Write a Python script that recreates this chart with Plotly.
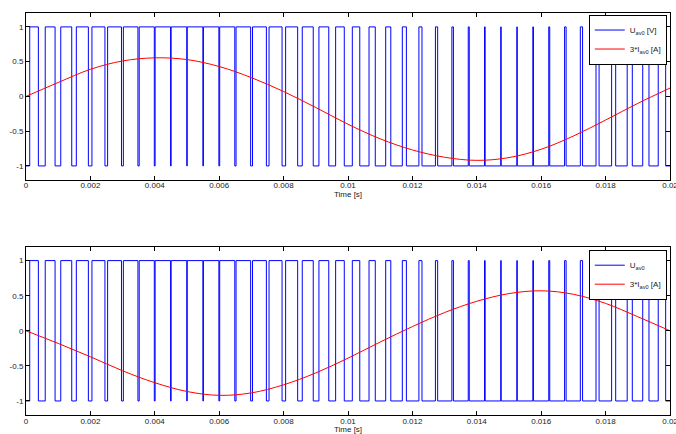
import plotly.graph_objects as go

# ---- data ----
T_SW = 0.0005  # switching period [s]
# fraction of each switching period spent at +1 (40 periods over 0.02 s)
duty_high = [0.537, 0.611, 0.682, 0.748, 0.808, 0.861, 0.905, 0.939, 0.962, 0.974,
             0.974, 0.962, 0.939, 0.905, 0.861, 0.808, 0.748, 0.682, 0.611, 0.537,
             0.463, 0.389, 0.318, 0.252, 0.192, 0.139, 0.095, 0.061, 0.038, 0.026,
             0.026, 0.038, 0.061, 0.095, 0.139, 0.192, 0.252, 0.318, 0.389, 0.463]

t_curr = [0.000, 0.001, 0.002, 0.003, 0.004, 0.005, 0.006, 0.007, 0.008, 0.009, 0.010,
          0.011, 0.012, 0.013, 0.014, 0.015, 0.016, 0.017, 0.018, 0.019, 0.020]
i_top = [0.0, 0.20, 0.39, 0.51, 0.555, 0.53, 0.43, 0.27, 0.07, -0.16, -0.40,
         -0.61, -0.77, -0.875, -0.92, -0.88, -0.76, -0.57, -0.34, -0.10, 0.12]
i_bot = [0.0, -0.18, -0.37, -0.57, -0.74, -0.865, -0.92, -0.885, -0.77, -0.60, -0.39,
         -0.16, 0.06, 0.26, 0.42, 0.53, 0.57, 0.52, 0.39, 0.20, 0.0]

x_ticks = [0, 0.002, 0.004, 0.006, 0.008, 0.01, 0.012, 0.014, 0.016, 0.018, 0.02]
x_tick_text = ["0", "0.002", "0.004", "0.006", "0.008", "0.01", "0.012", "0.014", "0.016", "0.018", "0.02"]
y_ticks = [-1, -0.5, 0, 0.5, 1]
y_tick_text = ["-1", "-0.5", "0", "0.5", "1"]

# build PWM step coordinates from the duty list
pwm_t = [0.0]
pwm_u = [-1]
for k, d in enumerate(duty_high):
    lo = (1 - d) * T_SW / 2
    pwm_t += [k * T_SW + lo, (k + 1) * T_SW - lo]
    pwm_u += [1, -1]
pwm_t.append(len(duty_high) * T_SW)
pwm_u.append(-1)

FONT = "Liberation Sans, Arial, Helvetica, sans-serif"
BLUE = "#0000ff"
RED = "#ff0000"

fig = go.Figure()
fig.add_trace(go.Scatter(x=pwm_t, y=pwm_u, mode="lines", line=dict(color=BLUE, width=1, shape="hv"),
                         name="U<sub>av0</sub> [V]", xaxis="x", yaxis="y", legend="legend"))
fig.add_trace(go.Scatter(x=t_curr, y=i_top, mode="lines", line=dict(color=RED, width=1, shape="spline", smoothing=1),
                         name="3*I<sub>av0</sub> [A]", xaxis="x", yaxis="y", legend="legend"))
fig.add_trace(go.Scatter(x=pwm_t, y=pwm_u, mode="lines", line=dict(color=BLUE, width=1, shape="hv"),
                         name="U<sub>av0</sub>", xaxis="x2", yaxis="y2", legend="legend2"))
fig.add_trace(go.Scatter(x=t_curr, y=i_bot, mode="lines", line=dict(color=RED, width=1, shape="spline", smoothing=1),
                         name="3*I<sub>av0</sub> [A]", xaxis="x2", yaxis="y2", legend="legend2"))

ax_common = dict(showline=True, linecolor="black", linewidth=1, mirror="ticks", ticks="inside",
                 ticklen=4, tickcolor="black", showgrid=False, zeroline=False, automargin=False,
                 ticklabeloverflow="allow",
                 tickfont=dict(family=FONT, size=8, color="#222"))

xcfg = dict(ax_common, range=[0, 0.0200001], tickvals=x_ticks, ticktext=x_tick_text,
            ticklabelstandoff=-2,
            title=dict(text="Time [s]", font=dict(family=FONT, size=8, color="#222"), standoff=0))
ycfg = dict(ax_common, range=[-1.2, 1.2], tickvals=y_ticks, ticktext=y_tick_text)

leg_common = dict(xanchor="right", yanchor="top", bgcolor="white", bordercolor="black", borderwidth=1,
                  font=dict(family=FONT, size=8, color="#222"), tracegroupgap=0, itemwidth=30)

fig.update_layout(
    width=676, height=434,
    margin=dict(l=26, r=6, t=13, b=19, autoexpand=False),
    paper_bgcolor="white", plot_bgcolor="white",
    font=dict(family=FONT, size=8, color="#222"),
    showlegend=True,
    xaxis=dict(xcfg, domain=[0, 1], anchor="y"),
    yaxis=dict(ycfg, domain=[0.585, 1], anchor="x"),
    xaxis2=dict(xcfg, domain=[0, 1], anchor="y2"),
    yaxis2=dict(ycfg, domain=[0, 0.419], anchor="x2"),
    legend=dict(leg_common, x=0.995, y=0.9962),
    legend2=dict(leg_common, x=0.995, y=0.4112),
)

fig.write_html("out.html", config={"displayModeBar": False},
               post_script="document.body.style.margin='0';document.body.style.overflow='hidden';")
